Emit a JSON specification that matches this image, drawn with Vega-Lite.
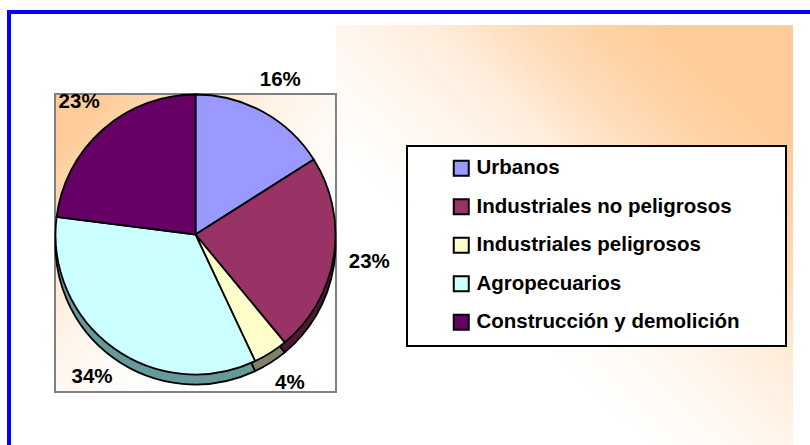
{
  "$schema": "https://vega.github.io/schema/vega-lite/v6.json",
  "padding": {"left": 7, "top": 10, "right": 0, "bottom": 0},
  "background": "white",
  "config": {"view": {"stroke": null}, "font": "Liberation Sans"},
  "datasets": {
    "residuos": [
      {"tipo": "Urbanos", "pct": 0.16, "orden": 1},
      {"tipo": "Industriales no peligrosos", "pct": 0.23, "orden": 2},
      {"tipo": "Industriales peligrosos", "pct": 0.04, "orden": 3},
      {"tipo": "Agropecuarios", "pct": 0.34, "orden": 4},
      {"tipo": "Construcción y demolición", "pct": 0.23, "orden": 5}
    ]
  },
  "spacing": 0,
  "bounds": "flush",
  "hconcat": [
    {
      "width": 4, "height": 435,
      "view": {"fill": "#0000FF", "stroke": null},
      "data": {"values": []},
      "mark": "point"
    },
    {
      "spacing": 11,
      "bounds": "flush",
      "vconcat": [
        {
          "width": 799, "height": 4,
          "view": {"fill": "#0000FF", "stroke": null},
          "data": {"values": []},
          "mark": "point"
        },
        {
          "spacing": 0,
          "bounds": "flush",
          "center": true,
          "hconcat": [
            {"width": 44, "height": 1, "data": {"values": []}, "mark": "point"},
            {
              "width": 281, "height": 298,
              "view": {
                "stroke": "#808080", "strokeWidth": 2,
                "fill": {
                  "gradient": "linear", "x1": 0, "y1": 0, "x2": 1, "y2": 1,
                  "stops": [
                    {"offset": 0, "color": "#FFCC99"},
                    {"offset": 0.1, "color": "#FFCC99"},
                    {"offset": 0.25, "color": "#FFE0C2"},
                    {"offset": 0.4, "color": "#FFF2E6"},
                    {"offset": 0.55, "color": "#FFFAF6"},
                    {"offset": 0.7, "color": "#FFFFFF"},
                    {"offset": 1, "color": "#FFFFFF"}
                  ]
                }
              },
              "data": {"name": "residuos"},
              "encoding": {
                "theta": {"field": "pct", "type": "quantitative", "stack": true},
                "order": {"field": "orden", "type": "quantitative"}
              },
              "layer": [
                {
                  "mark": {"type": "arc", "radius": 140, "yOffset": 1.5, "stroke": "black", "strokeWidth": 1.8},
                  "encoding": {
                    "color": {
                      "field": "tipo", "type": "nominal", "sort": null, "legend": null,
                      "scale": {
                        "domain": ["Urbanos", "Industriales no peligrosos", "Industriales peligrosos", "Agropecuarios", "Construcción y demolición"],
                        "range": ["#4C4C80", "#4C1933", "#80806A", "#669999", "#330033"]
                      }
                    }
                  }
                },
                {
                  "mark": {"type": "arc", "radius": 140, "yOffset": -8.5, "stroke": "black", "strokeWidth": 1.8},
                  "encoding": {
                    "color": {
                      "field": "tipo", "type": "nominal", "sort": null, "legend": null,
                      "scale": {
                        "domain": ["Urbanos", "Industriales no peligrosos", "Industriales peligrosos", "Agropecuarios", "Construcción y demolición"],
                        "range": ["#9999FF", "#993366", "#FFFFCC", "#CCFFFF", "#660066"]
                      }
                    }
                  }
                },
                {
                  "mark": {"type": "text", "radius": 176, "yOffset": -8.5, "font": "Liberation Sans", "fontWeight": "bold", "fontSize": 20.5, "color": "black"},
                  "encoding": {
                    "text": {"field": "pct", "type": "quantitative", "format": ".0%"}
                  }
                }
              ],
              "resolve": {"scale": {"color": "independent"}}
            },
            {
              "width": 457, "height": 436,
              "view": {
                "stroke": null,
                "fill": {
                  "gradient": "linear", "x1": 0, "y1": 1, "x2": 1, "y2": 0,
                  "stops": [
                    {"offset": 0, "color": "rgba(255,204,153,0)"},
                    {"offset": 0.35, "color": "rgba(255,204,153,0)"},
                    {"offset": 0.5, "color": "rgba(255,204,153,0.18)"},
                    {"offset": 0.6, "color": "rgba(255,204,153,0.35)"},
                    {"offset": 0.7, "color": "rgba(255,204,153,0.68)"},
                    {"offset": 0.78, "color": "rgba(255,204,153,0.88)"},
                    {"offset": 0.86, "color": "rgba(255,204,153,1)"},
                    {"offset": 1, "color": "rgba(255,204,153,1)"}
                  ]
                }
              },
              "data": {"name": "residuos"},
              "mark": {"type": "arc", "radius": 0},
              "encoding": {
                "color": {
                  "field": "tipo", "type": "nominal", "sort": null,
                  "scale": {
                    "domain": ["Urbanos", "Industriales no peligrosos", "Industriales peligrosos", "Agropecuarios", "Construcción y demolición"],
                    "range": ["#9999FF", "#993366", "#FFFFCC", "#CCFFFF", "#660066"]
                  },
                  "legend": {
                    "orient": "none", "legendX": 400, "legendY": 136,
                    "title": " ", "titleOrient": "right", "titleFontSize": 1, "titlePadding": 34,
                    "symbolType": "square", "symbolSize": 225, "symbolStrokeColor": "black", "symbolStrokeWidth": 2, "symbolOpacity": 1, "symbolOffset": 32,
                    "labelFont": "Liberation Sans", "labelFontSize": 20.5, "labelFontWeight": "bold", "labelColor": "black", "labelOffset": 5, "labelLimit": 0,
                    "rowPadding": 14.5, "padding": 12,
                    "strokeColor": "black", "fillColor": "white", "cornerRadius": 0,
                    "encode": {"legend": {"update": {"strokeWidth": {"value": 2}}}}
                  }
                }
              }
            }
          ]
        }
      ]
    }
  ]
}
